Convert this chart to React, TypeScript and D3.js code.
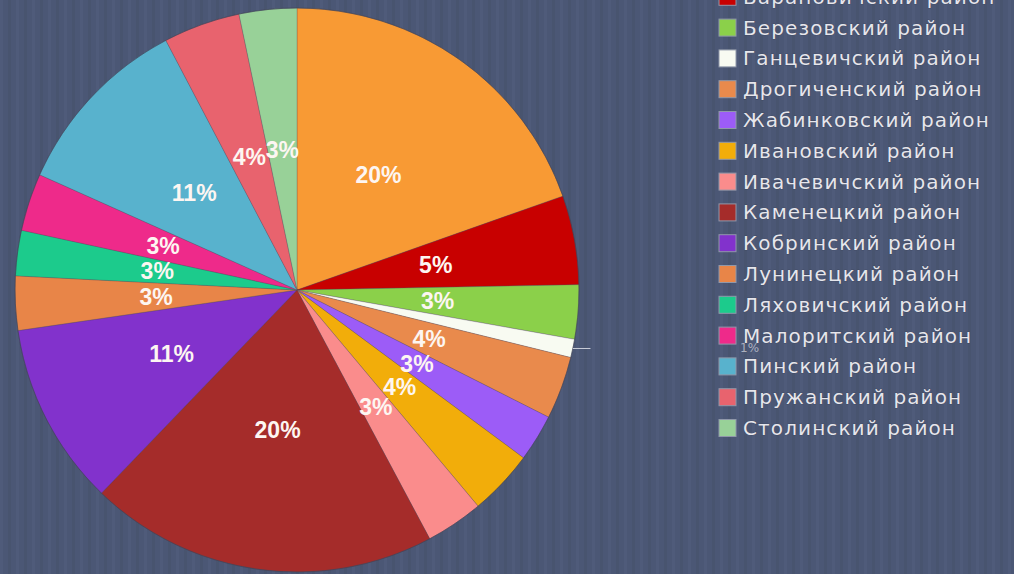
import React from "react";
import * as d3 from "d3";

const categories = [
  "г. Брест",
  "Барановичский район",
  "Березовский район",
  "Ганцевичский район",
  "Дрогиченский район",
  "Жабинковский район",
  "Ивановский район",
  "Ивачевичский район",
  "Каменецкий район",
  "Кобринский район",
  "Лунинецкий район",
  "Ляховичский район",
  "Малоритский район",
  "Пинский район",
  "Пружанский район",
  "Столинский район",
];

const values = [19.6, 5.1, 3.1, 1.05, 3.6, 2.7, 3.75, 3.3, 20.0, 10.5, 3.1, 2.6, 3.3, 10.6, 4.4, 3.3];

const colors = [
  "#f89a34",
  "#c80000",
  "#8bd04a",
  "#f8fbf2",
  "#e98a4c",
  "#9c5cf7",
  "#f2ad0a",
  "#fa8c8c",
  "#a52c2a",
  "#8232cc",
  "#e88548",
  "#1ccb8c",
  "#ee2a8a",
  "#58b2cd",
  "#e8636e",
  "#98d198",
];

const W = 1014;
const H = 574;
const CX = 297;
const CY = 290;
const R = 282;

export default function App() {
  const total = d3.sum(values);
  const pie = d3
    .pie<number>()
    .sort(null)
    .value((d) => d)(values);
  const arc = d3.arc<d3.PieArcDatum<number>>().innerRadius(0).outerRadius(R);
  const labelArc = d3
    .arc<d3.PieArcDatum<number>>()
    .innerRadius(R * 0.5)
    .outerRadius(R * 0.5);
  const fmt = d3.format(".0%");

  const legendY = d3
    .scaleLinear()
    .domain([0, categories.length - 1])
    .range([-34, 428]);

  const stripes = d3.range(0, W, 8);

  return (
    <svg
      width={W}
      height={H}
      style={{ position: "absolute", left: 0, top: 0, display: "block" }}
    >
      <rect x={0} y={0} width={W} height={H} fill="#4b5775" />
      {stripes.map((x, i) => (
        <rect
          key={i}
          x={x}
          y={0}
          width={3}
          height={H}
          fill={i % 2 === 0 ? "#4f5b7a" : "#48546f"}
        />
      ))}
      <g transform={`translate(${CX},${CY})`}>
        {pie.map((p, i) => (
          <path
            key={i}
            d={arc(p) || ""}
            fill={colors[i]}
            stroke="#5a4e5a"
            strokeOpacity={0.35}
            strokeWidth={0.8}
          />
        ))}
        <circle r={R} fill="none" stroke="#3c4258" strokeWidth={1} strokeOpacity={0.6} />
        {pie.map((p, i) => {
          if (values[i] / total < 0.02) return null;
          const [x, y] = labelArc.centroid(p);
          return (
            <text
              key={i}
              x={x}
              y={y}
              textAnchor="middle"
              dominantBaseline="central"
              fill="#fdf6f2"
              fontFamily="'Liberation Sans', Arial, sans-serif"
              fontWeight="bold"
              fontSize={23}
            >
              {fmt(values[i] / total)}
            </text>
          );
        })}
        {pie.map((p, i) => {
          if (values[i] / total >= 0.02) return null;
          const mid = (p.startAngle + p.endAngle) / 2;
          const x1 = Math.sin(mid) * R;
          const y1 = -Math.cos(mid) * R;
          const x2 = Math.sin(mid) * (R + 18);
          return (
            <g key={i}>
              <line
                x1={x1}
                y1={y1}
                x2={x2}
                y2={y1}
                stroke="#c8ccd8"
                strokeWidth={1}
              />
              <text
                x={443}
                y={y1 + 4}
                fill="#d8d8e0"
                fillOpacity={0.7}
                fontFamily="'DejaVu Sans', sans-serif"
                fontSize={12}
              >
                {fmt(values[i] / total)}
              </text>
            </g>
          );
        })}
      </g>
      <g>
        {categories.map((c, i) => {
          const y = legendY(i);
          return (
            <g key={i} transform={`translate(719,${y})`}>
              <rect
                x={0}
                y={-8.5}
                width={17}
                height={17}
                fill={colors[i]}
                stroke="#9098aa"
                strokeWidth={1}
              />
              <text
                x={24}
                y={0}
                dominantBaseline="central"
                fill="#e6e6ec"
                stroke="#3a4056"
                strokeWidth={0.6}
                paintOrder="stroke"
                fontFamily="'DejaVu Sans', sans-serif"
                fontSize={20}
                letterSpacing={1.1}
              >
                {c}
              </text>
            </g>
          );
        })}
      </g>
    </svg>
  );
}
